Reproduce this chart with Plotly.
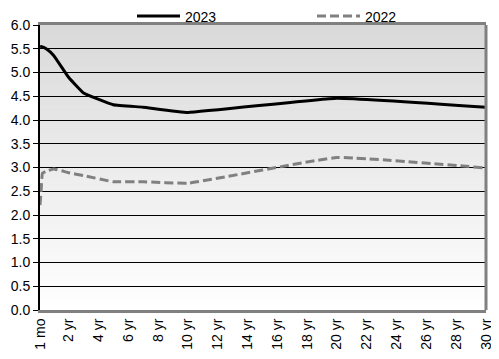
import plotly.graph_objects as go

# Maturities (in years) and yields
maturity_years = [1/12, 2/12, 3/12, 6/12, 1, 2, 3, 5, 7, 10, 20, 30]
yields_2023 = [5.53, 5.55, 5.54, 5.50, 5.36, 4.90, 4.57, 4.32, 4.27, 4.16, 4.46, 4.27]
yields_2022 = [2.21, 2.55, 2.88, 2.92, 2.97, 2.89, 2.83, 2.70, 2.70, 2.67, 3.21, 2.99]

tick_vals = [1/12] + list(range(2, 31, 2))
tick_text = ["1 mo"] + [f"{v} yr" for v in range(2, 31, 2)]
y_ticks = [i * 0.5 for i in range(13)]

fig = go.Figure()
fig.add_trace(go.Scatter(x=maturity_years, y=yields_2023, name="2023", mode="lines",
                         legend="legend",
                         line=dict(color="black", width=3, shape="spline", smoothing=0.3)))
fig.add_trace(go.Scatter(x=maturity_years, y=yields_2022, name="2022", mode="lines",
                         legend="legend2",
                         line=dict(color="#808080", width=3, dash="9px,4px", shape="spline", smoothing=0.3)))

# vertical gradient background
shapes = []
n = 60
for i in range(n):
    c = int(round(217 + (255 - 217) * (1 - (i + 0.5) / n)))
    shapes.append(dict(type="rect", xref="paper", yref="paper", x0=0, x1=1,
                       y0=i / n, y1=(i + 1) / n + 0.002, fillcolor=f"rgb({c},{c},{c})",
                       line=dict(width=0), layer="below"))
# right gray border
shapes.append(dict(type="line", xref="paper", yref="paper", x0=1, x1=1, y0=0, y1=1,
                   line=dict(color="#808080", width=3), layer="above"))

leg_common = dict(orientation="h", yanchor="middle", y=1.03, xanchor="left",
                  font=dict(size=14), bgcolor="rgba(0,0,0,0)", itemwidth=43,
                  tracegroupgap=0)

fig.update_layout(
    width=491, height=351,
    margin=dict(l=32, r=13, t=17, b=49, autoexpand=False),
    paper_bgcolor="white", plot_bgcolor="white",
    font=dict(family="Liberation Sans, Arial, sans-serif", color="black", size=13),
    shapes=shapes,
    showlegend=True,
    legend=dict(**leg_common, x=(132 - 40) / 446),
    legend2=dict(**leg_common, x=(312 - 40) / 446),
    xaxis=dict(range=[1/12, 30], tickvals=tick_vals, ticktext=tick_text, tickangle=-90,
               showgrid=False, zeroline=False, showline=True, linecolor="#808080",
               linewidth=3, mirror=True, ticks="", tickfont=dict(size=14)),
    yaxis=dict(range=[0, 6], tickvals=y_ticks, tickformat=".1f", showgrid=True,
               gridcolor="black", gridwidth=1, zeroline=False, showline=True,
               linecolor="black", linewidth=2, ticks="outside", ticklen=5,
               tickcolor="black", tickfont=dict(size=14)),
)

fig.write_html("out.html")
